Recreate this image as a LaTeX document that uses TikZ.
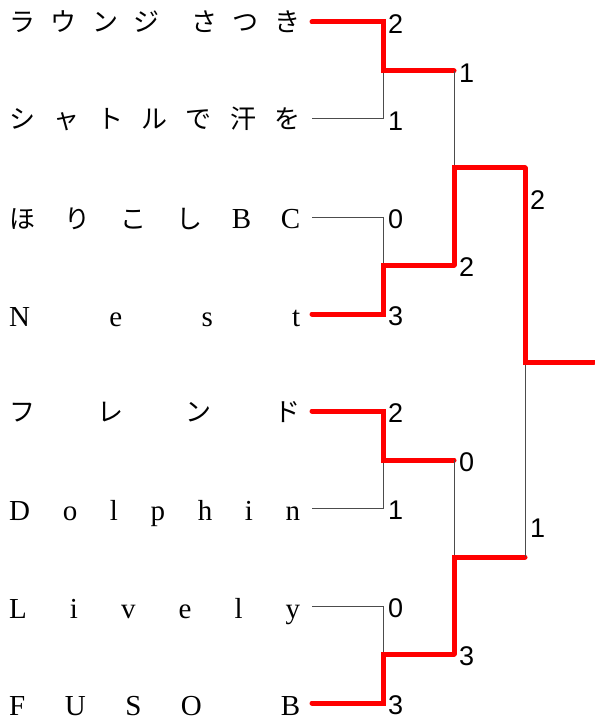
\documentclass[tikz,border=0pt]{standalone}
\usepackage{fontspec}
\setmainfont{Liberation Serif}
\newfontfamily\jpfont{Noto Sans CJK JP}
\newfontfamily\scorefont{Liberation Sans}
\newcommand{\jp}{\jpfont\fontsize{26}{28}\selectfont}
\newcommand{\spreadname}[1]{\makebox[291pt][s]{#1}}
\begin{document}
\begin{tikzpicture}[x=1pt, y=-1pt,
		team/.style={anchor=base west, inner sep=0pt, font=\fontsize{29}{30}\selectfont},
		score/.style={anchor=west, inner sep=0pt, font=\scorefont\fontsize{27}{28}\selectfont},
		win/.style={red, line width=5pt, line cap=round},
		lose/.style={black!70, line width=1pt}]
	\useasboundingbox (0,0) rectangle (594,722);

	% team names
	\node[team] (n1) at (9,32) {\spreadname{\jp ラ\hfill ウ\hfill ン\hfill ジ\hfill\hfill さ\hfill つ\hfill き}};
	\node[team] (n2) at (9,129) {\spreadname{\jp シ\hfill ャ\hfill ト\hfill ル\hfill で\hfill 汗\hfill を}};
	\node[team] (n3) at (9,228) {\spreadname{{\jp ほ\hfill り\hfill こ\hfill し}\hfill B\hfill C}};
	\node[team] (n4) at (9,326) {\spreadname{N\hfill e\hfill s\hfill t}};
	\node[team] (n5) at (9,421) {\spreadname{\jp フ\hfill レ\hfill ン\hfill ド}};
	\node[team] (n6) at (9,520) {\spreadname{D\hfill o\hfill l\hfill p\hfill h\hfill i\hfill n}};
	\node[team] (n7) at (9,618) {\spreadname{L\hfill i\hfill v\hfill e\hfill l\hfill y}};
	\node[team] (n8) at (9,715) {\spreadname{F\hfill U\hfill S\hfill O\hfill\hfill B}};

	% bracket points
	\coordinate (t1) at (312,22);
	\coordinate (t2) at (312,119);
	\coordinate (t3) at (312,217);
	\coordinate (t4) at (312,314);
	\coordinate (t5) at (312,411);
	\coordinate (t6) at (312,508);
	\coordinate (t7) at (312,606);
	\coordinate (t8) at (312,703);
	\coordinate (j1) at (383,71);
	\coordinate (j2) at (383,265);
	\coordinate (j3) at (383,460);
	\coordinate (j4) at (383,654);
	\coordinate (e1) at (454,71);
	\coordinate (e2) at (454,265);
	\coordinate (e3) at (454,460);
	\coordinate (e4) at (454,654);
	\coordinate (k1) at (454,168);
	\coordinate (k2) at (454,557);
	\coordinate (f1) at (525,168);
	\coordinate (f2) at (525,557);
	\coordinate (fin) at (525,362);
	\coordinate (champ) at (594,362);

	% first round
	\draw[lose] (t2) -| (j1);
	\draw[win] (t1) -| (j1) -- (e1);
	\draw[lose] (t3) -| (j2);
	\draw[win] (t4) -| (j2) -- (e2);
	\draw[lose] (t6) -| (j3);
	\draw[win] (t5) -| (j3) -- (e3);
	\draw[lose] (t7) -| (j4);
	\draw[win] (t8) -| (j4) -- (e4);

	% semi finals
	\draw[lose] (e1) -- (k1);
	\draw[win] (e2) -- (k1) -- (f1);
	\draw[lose] (e3) -- (k2);
	\draw[win] (e4) -- (k2) -- (f2);

	% final
	\draw[lose] (f2) -- (fin);
	\draw[win] (f1) -- (fin) -- (champ);

	% scores
	\node[score] (p1) at (388,24) {2};
	\node[score] (p2) at (388,121) {1};
	\node[score] (p3) at (388,219) {0};
	\node[score] (p4) at (388,316) {3};
	\node[score] (p5) at (388,413) {2};
	\node[score] (p6) at (388,510) {1};
	\node[score] (p7) at (388,608) {0};
	\node[score] (p8) at (388,705) {3};
	\node[score] (q1) at (459,73) {1};
	\node[score] (q2) at (459,267) {2};
	\node[score] (q3) at (459,462) {0};
	\node[score] (q4) at (459,656) {3};
	\node[score] (r1) at (530,200) {2};
	\node[score] (r2) at (530,528) {1};
\end{tikzpicture}
\end{document}
